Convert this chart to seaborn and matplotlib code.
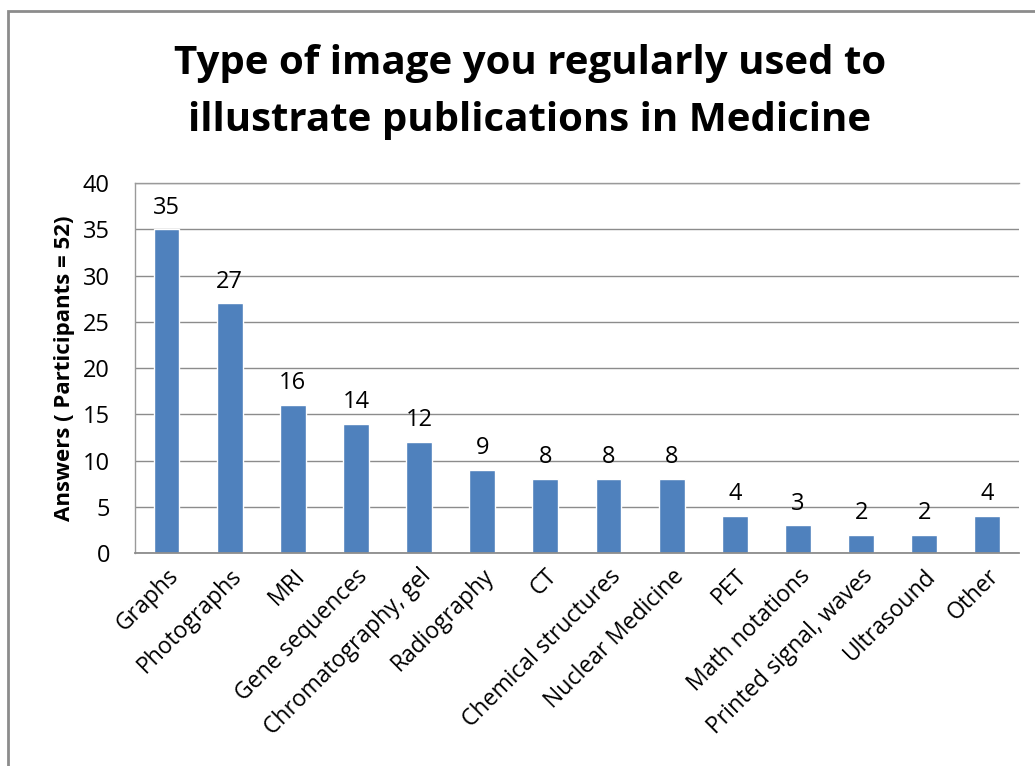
import matplotlib
matplotlib.use("Agg")
import matplotlib.pyplot as plt
import seaborn as sns
import pandas as pd
from matplotlib.patches import Rectangle

# data
categories = ["Graphs", "Photographs", "MRI", "Gene sequences", "Chromatography, gel",
              "Radiography", "CT", "Chemical structures", "Nuclear Medicine", "PET",
              "Math notations", "Printed signal, waves", "Ultrasound", "Other"]
answers = [35, 27, 16, 14, 12, 9, 8, 8, 8, 4, 3, 2, 2, 4]
y_ticks = [0, 5, 10, 15, 20, 25, 30, 35, 40]

sns.set_style("white")
plt.rcParams["font.family"] = ["Open Sans", "DejaVu Sans"]
plt.rcParams.update({"text.color": "black", "axes.labelcolor": "black",
                     "xtick.color": "black", "ytick.color": "black"})

df = pd.DataFrame({"category": categories, "answers": answers})

fig = plt.figure(figsize=(10.35, 7.66), dpi=100)
ax = fig.add_axes([0.1304, 0.278, 0.8541, 0.483])

sns.barplot(data=df, x="category", y="answers", color="#4F81BD",
            width=0.41, saturation=1, ax=ax)

ax.set_ylim(0, 40)
ax.set_yticks(y_ticks)
ax.set_xlim(-0.5, len(categories) - 0.5)
ax.yaxis.grid(True, color="#8C8C8C", linewidth=1)
ax.set_axisbelow(True)
for side in ["left", "top"]:
    ax.spines[side].set_color("#9A9A9A")
    ax.spines[side].set_linewidth(1)
ax.spines["right"].set_visible(False)
ax.spines["bottom"].set_color("#8C8C8C")
ax.spines["bottom"].set_linewidth(1.3)

ax.tick_params(axis="y", labelsize=17, length=0, pad=18)
ax.tick_params(axis="x", labelsize=16.5, length=0, pad=8)
plt.setp(ax.get_xticklabels(), rotation=45, ha="right", rotation_mode="anchor")

ax.set_xlabel("")
ax.set_ylabel("Answers ( Participants = 52)", fontsize=16, fontweight="bold", labelpad=6)

for i, v in enumerate(answers):
    ax.annotate(str(v), (i, v), xytext=(0, 7), textcoords="offset points",
                ha="center", va="bottom", fontsize=17)

fig.suptitle("Type of image you regularly used to\nillustrate publications in Medicine",
             x=0.512, y=0.943, fontsize=29, fontweight="bold", linespacing=1.6)

# outer chart border (only left and top visible in the crop)
fig.patches.append(Rectangle((8 / 1035, -0.1), 2, 0.1 + (766 - 11) / 766,
                             transform=fig.transFigure, fill=False,
                             edgecolor="#8C8C8C", linewidth=2))

fig.savefig("out.png", dpi=100)
